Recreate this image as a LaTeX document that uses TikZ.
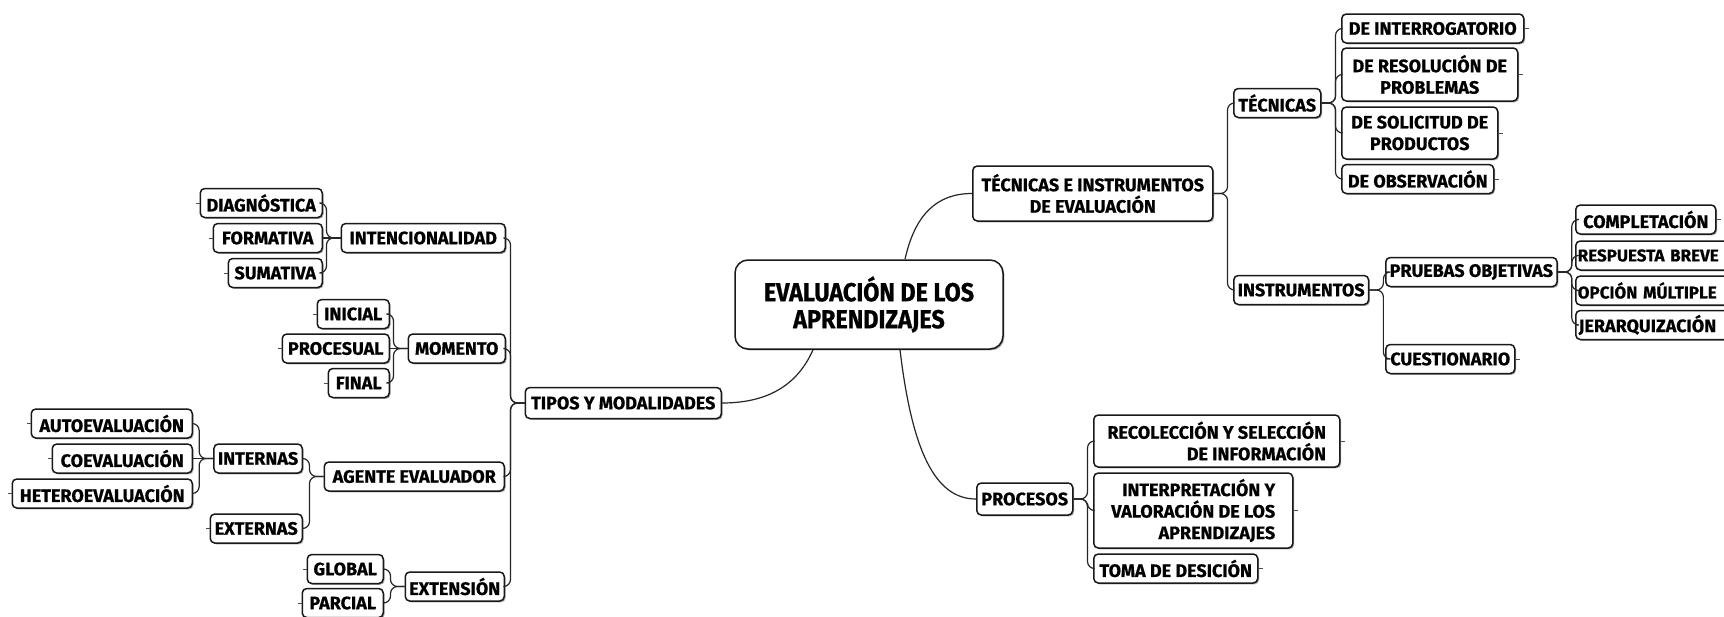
\documentclass[tikz,border=0pt]{standalone}
\usepackage{fontspec}
\setmainfont{Fira Sans}[BoldFeatures={FakeBold=0.6}]
\newfontfamily\bigfam{Fira Sans}[FakeStretch=0.9, BoldFeatures={FakeBold=0.8}]
\usetikzlibrary{calc,shadows}
\newcommand\leaffont{\fontsize{18}{21.5}\selectfont\bfseries}
\newcommand\edgefont{\fontsize{17}{20}\selectfont\bfseries}
\newcommand\bigfont{\bigfam\fontsize{26}{27}\selectfont\bfseries}
\tikzset{
  box/.style={draw=black!90, line width=1.5pt, rounded corners=4.5pt, fill=white,
    inner xsep=4pt, inner ysep=2pt, minimum height=29pt, font=\leaffont,
    drop shadow={shadow xshift=1.3pt, shadow yshift=-1.3pt, fill=black!60, opacity=.6}},
  edgebox/.style={box, font=\edgefont, inner xsep=2pt, text width=196pt, align=left},
  bigbox/.style={box, rounded corners=13pt, font=\bigfont, align=center},
  conn/.style={draw=black!85, line width=1.2pt, rounded corners=7pt},
  stub/.style={draw=black!70, line width=1pt},
}
\newcommand\LC[2]{\draw[conn] (#2.east) -| ($(#1.west)+(-14,0)$) -- (#1.west);}
\newcommand\RC[2]{\draw[conn] (#2.west) -| ($(#1.east)+(14,0)$) -- (#1.east);}
\newcommand\LSTUB[1]{\draw[stub] (#1.west) -- ++(-4,0);}
\newcommand\RSTUB[1]{\draw[stub] (#1.east) -- ++(4,0);}
\begin{document}
\begin{tikzpicture}[x=1pt,y=-1pt]
\useasboundingbox (0,0) rectangle (1724,616);
\clip (0,0) rectangle (1724,616);
\fill[white] (0,0) rectangle (1724,616);
% central
\node[bigbox, minimum width=268pt, minimum height=89pt] (cen) at (869,304.5) {EVALUACIÓN DE LOS\\APRENDIZAJES};
% left side
\node[box, anchor=east, minimum width=196pt, minimum height=31pt] (tipos) at (722,403) {TIPOS Y MODALIDADES};
\node[box, anchor=east, minimum width=164pt] (inten) at (506,238) {INTENCIONALIDAD};
\node[box, anchor=east, minimum width=122pt] (diag) at (323,203) {DIAGNÓSTICA};
\node[box, anchor=east, minimum width=109pt] (form) at (323,238) {FORMATIVA};
\node[box, anchor=east, minimum width=94pt] (suma) at (323,273) {SUMATIVA};
\node[box, anchor=east, minimum width=97pt] (mom) at (506,348.5) {MOMENTO};
\node[box, anchor=east, minimum width=72pt] (inic) at (390,314) {INICIAL};
\node[box, anchor=east, minimum width=107pt] (procu) at (390,348.5) {PROCESUAL};
\node[box, anchor=east, minimum width=61pt] (fin) at (390,383) {FINAL};
\node[box, anchor=east, minimum width=180pt] (agen) at (505,476.5) {AGENTE EVALUADOR};
\node[box, anchor=east, minimum width=88pt] (intr) at (303,458.5) {INTERNAS};
\node[box, anchor=east, minimum width=92pt] (extr) at (303,528.5) {EXTERNAS};
\node[box, anchor=east, minimum width=161pt] (auto) at (193,423.5) {AUTOEVALUACIÓN};
\node[box, anchor=east, minimum width=140pt] (coev) at (193,458.5) {COEVALUACIÓN};
\node[box, anchor=east, minimum width=180pt] (hete) at (193,493.5) {HETEROEVALUACIÓN};
\node[box, anchor=east, minimum width=99pt] (exte) at (505,586.5) {EXTENSIÓN};
\node[box, anchor=east, minimum width=76pt] (glob) at (384,569) {GLOBAL};
\node[box, anchor=east, minimum width=81pt] (parc) at (384,603) {PARCIAL};
% right side upper
\node[box, anchor=west, minimum width=240pt, minimum height=55pt, align=center] (tei) at (972,193.5) {TÉCNICAS E INSTRUMENTOS\\DE EVALUACIÓN};
\node[box, anchor=west, minimum width=87pt] (tec) at (1233,103) {TÉCNICAS};
\node[box, anchor=west, minimum width=131pt] (inst) at (1233,290) {INSTRUMENTOS};
\node[box, anchor=west, minimum width=182pt] (dint) at (1341,28.5) {DE INTERROGATORIO};
\node[box, anchor=west, minimum width=176pt, minimum height=53pt, align=center] (dres) at (1341,74.5) {DE RESOLUCIÓN DE\\PROBLEMAS};
\node[box, anchor=west, minimum width=156pt, minimum height=52pt, align=center] (dsol) at (1341,133) {DE SOLICITUD DE\\PRODUCTOS};
\node[box, anchor=west, minimum width=152pt] (dobs) at (1341,179) {DE OBSERVACIÓN};
\node[box, anchor=west, minimum width=169pt] (prue) at (1385,272) {PRUEBAS OBJETIVAS};
\node[box, anchor=west, minimum width=129pt] (cues) at (1385,359) {CUESTIONARIO};
\node[box, anchor=west, minimum width=140pt] (comp) at (1575,219.5) {COMPLETACIÓN};
\node[edgebox, anchor=west] (resp) at (1575,255.5) {RESPUESTA BREVE};
\node[edgebox, anchor=west] (opci) at (1575,290.5) {OPCIÓN MÚLTIPLE};
\node[edgebox, anchor=west, font=\leaffont, inner xsep=3pt] (jera) at (1575,325) {JERARQUIZACIÓN};
% right side lower
\node[box, anchor=west, minimum width=96pt, minimum height=32pt] (pros) at (976,499) {PROCESOS};
\node[box, anchor=west, minimum width=246pt, minimum height=52pt, align=right] (reco) at (1093,441) {RECOLECCIÓN Y SELECCIÓN\\DE INFORMACIÓN};
\node[box, anchor=west, minimum width=199pt, minimum height=75pt, align=right] (inte) at (1093,510.5) {INTERPRETACIÓN Y\\VALORACIÓN DE LOS\\APRENDIZAJES};
\node[box, anchor=west, minimum width=164pt] (toma) at (1093,568.5) {TOMA DE DESICIÓN};
% main curves
\draw[conn] ($(cen.north)+(36,0)$) .. controls ($(cen.north)+(46,-45)$) and ($(tei.west)+(-35,0)$) .. (tei.west);
\draw[conn] ($(cen.south)+(-56,0)$) .. controls ($(cen.south)+(-74,41)$) and ($(tipos.east)+(38,0)$) .. (tipos.east);
\draw[conn] ($(cen.south)+(31,0)$) .. controls ($(cen.south)+(43,101)$) and ($(pros.west)+(-41,0)$) .. (pros.west);
% left connectors
\LC{tipos}{inten} \LC{tipos}{mom} \LC{tipos}{agen} \LC{tipos}{exte}
\LC{inten}{diag} \draw[conn] (form.east) -- (inten.west); \LC{inten}{suma}
\LC{mom}{inic} \draw[conn] (procu.east) -- (mom.west); \LC{mom}{fin}
\LC{agen}{intr} \LC{agen}{extr}
\LC{intr}{auto} \draw[conn] (coev.east) -- (intr.west); \LC{intr}{hete}
\LC{exte}{glob} \LC{exte}{parc}
% right connectors
\RC{tei}{tec} \RC{tei}{inst}
\RC{tec}{dint} \RC{tec}{dres} \RC{tec}{dsol} \RC{tec}{dobs}
\RC{inst}{prue} \RC{inst}{cues}
\RC{prue}{comp} \RC{prue}{resp} \RC{prue}{opci} \RC{prue}{jera}
\RC{pros}{reco} \RC{pros}{inte} \RC{pros}{toma}
% stubs
\LSTUB{diag} \LSTUB{form} \LSTUB{suma} \LSTUB{inic} \LSTUB{procu} \LSTUB{fin}
\LSTUB{auto} \LSTUB{coev} \LSTUB{hete} \LSTUB{extr} \LSTUB{glob} \LSTUB{parc}
\RSTUB{dint} \RSTUB{dres} \RSTUB{dsol} \RSTUB{dobs} \RSTUB{cues} \RSTUB{comp}
\RSTUB{reco} \RSTUB{inte} \RSTUB{toma}
\end{tikzpicture}
\end{document}
